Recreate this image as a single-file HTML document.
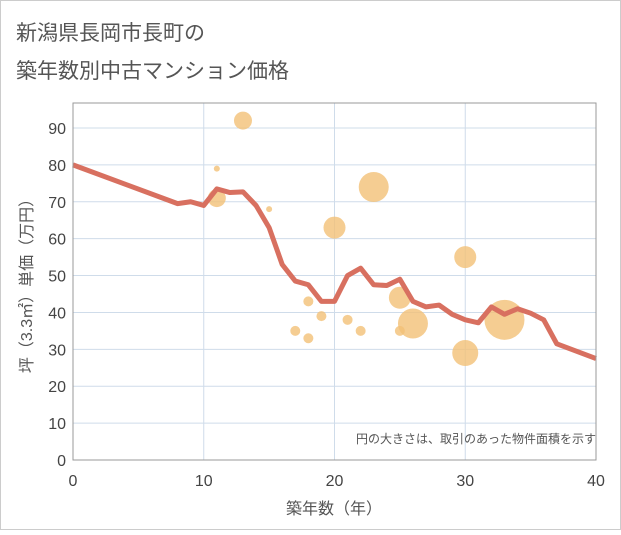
<!DOCTYPE html>
<html><head><meta charset="utf-8"><style>
body{margin:0;background:#fff}
svg text{font-family:"Liberation Sans","Noto Sans CJK JP",sans-serif}
</style></head><body>
<svg width="621" height="530" viewBox="0 0 621 530">
<rect x="0.5" y="0.5" width="620" height="529" fill="#fff" stroke="#ccc"/>
<text x="16" y="40" font-size="21" fill="#555">新潟県長岡市長町の</text>
<text x="16" y="78" font-size="21" fill="#555">築年数別中古マンション価格</text>
<g id="grid"></g>
<g id="bubbles"></g>
<g id="line"></g>
<rect x="73" y="103" width="523" height="357" fill="none" stroke="#999"/>
<text x="596" y="443" font-size="12" fill="#555" text-anchor="end">円の大きさは、取引のあった物件面積を示す</text>
<text x="334" y="514" font-size="16" fill="#555" text-anchor="middle">築年数（年）</text>
<text transform="translate(32,282) rotate(-90)" font-size="16" fill="#555" text-anchor="middle">坪（3.3㎡）単価（万円）</text>
<g id="ticks"></g>
</svg>
<script>
const xTicks=[0,10,20,30,40];
const yTicks=[0,10,20,30,40,50,60,70,80,90];
const lineYears=[0,8,9,10,11,12,13,14,15,16,17,18,19,20,21,22,23,24,25,26,27,28,29,30,31,32,33,34,35,36,37,40];
const lineValues=[80,69.5,70,69,73.5,72.5,72.7,69,63,53,48.5,47.5,43,43,50,52,47.5,47.3,49,43,41.5,42,39.5,38,37.2,41.5,39.5,41,39.8,38,31.5,27.5];
const bubbleYears=[11,11,13,15,17,18,18,19,20,21,22,23,25,25,26,30,30,33];
const bubbleValues=[71,79,92,68,35,43,33,39,63,38,35,74,44,35,37,55,29,38];
const bubbleSizes=[9,3,9,3,5,5,5,5,11,5,5,15,11,5,15,11,13,20];
const NS="http://www.w3.org/2000/svg";
const X=v=>73+v*523/40, Y=v=>460-v*332/90;
const mk=(t,a,p)=>{const e=document.createElementNS(NS,t);for(const k in a)e.setAttribute(k,a[k]);p.appendChild(e);return e;};
const grid=document.getElementById('grid'),ticks=document.getElementById('ticks');
xTicks.forEach(t=>{
 const l=mk('line',{x1:X(t),x2:X(t),y1:103,y2:460,stroke:'#cfdcea'},grid);
 
 
 const s=mk('text',{x:X(t),y:486,'font-size':16,fill:'#444','text-anchor':'middle'},ticks);
 s.textContent=t;
 
 
});
yTicks.forEach(t=>{
 const l=mk('line',{x1:73,x2:596,y1:Y(t),y2:Y(t),stroke:'#cfdcea'},grid);
 
 
 const s=mk('text',{x:66,y:Y(t)+6,'font-size':16,fill:'#444','text-anchor':'end'},ticks);
 s.textContent=t;
 
 
});
const bg=document.getElementById('bubbles');
bubbleYears.forEach((yr,i)=>{
 const c=mk('circle',{cx:X(yr),cy:Y(bubbleValues[i]),r:bubbleSizes[i],fill:'#f3c177','fill-opacity':0.8},bg);
 
 
});
const p=mk('polyline',{points:lineYears.map((y,i)=>X(y)+','+Y(lineValues[i])).join(' '),fill:'none',stroke:'#d87060','stroke-width':5,'stroke-linejoin':'round'},document.getElementById('line'));


</script>
</body></html>
